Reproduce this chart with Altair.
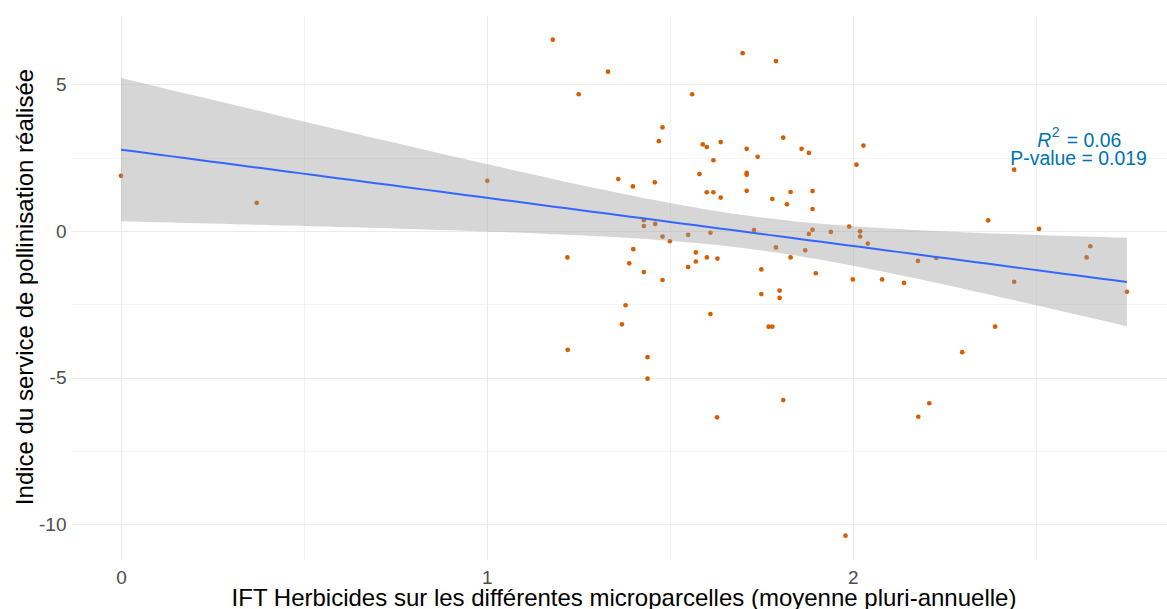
import altair as alt
import numpy as np
import pandas as pd

# ---- data ----
ift_herbicides = [
    0.000, 0.371, 1.001, 1.180, 1.699, 1.790, 1.331, 1.251, 1.561, 1.480,
    1.470, 1.590, 1.601, 1.639, 1.710, 1.810, 1.619, 1.740, 1.581, 1.710,
    1.710, 1.359, 1.399, 1.459, 1.601, 1.619, 1.639, 1.710, 1.780, 1.820,
    1.830, 1.429, 1.429, 1.460, 1.480, 1.500, 1.550, 1.611, 1.730, 1.790,
    1.830, 1.220, 1.400, 1.389, 1.429, 1.480, 1.550, 1.571, 1.571, 1.601,
    1.630, 1.750, 1.750, 1.800, 1.800, 1.860, 1.880, 2.029, 2.010, 1.890,
    1.890, 2.441, 2.370, 2.509, 1.890, 1.880, 1.940, 1.990, 2.020, 2.020,
    2.041, 1.870, 2.649, 2.639, 2.178, 2.228, 1.899, 2.000, 2.080, 2.140,
    2.441, 2.749, 1.379, 1.611, 1.369, 1.221, 1.439, 1.439, 1.629, 1.770,
    1.780, 1.810, 2.209, 2.179, 1.980, 2.389, 2.299,
]
indice_pollinisation = [
    1.88, 0.96, 1.71, 6.52, 6.06, 5.79, 5.43, 4.66, 4.66, 3.53,
    3.06, 2.95, 2.86, 3.03, 2.80, 3.18, 2.41, 2.53, 1.94, 1.98,
    1.92, 1.77, 1.52, 1.66, 1.32, 1.32, 1.14, 1.37, 1.09, 0.91,
    1.33, 0.37, 0.17, 0.24, -0.19, -0.35, -0.13, -0.06, 0.03, -0.56,
    -0.90, -0.90, -0.62, -1.10, -1.40, -1.67, -1.23, -1.04, -0.73, -0.90,
    -0.94, -1.31, -2.15, -2.03, -2.28, 2.80, 2.66, 2.91, 2.26, 1.36,
    0.75, 2.09, 0.36, 0.07, 0.04, -0.10, -0.03, 0.15, -0.01, -0.19,
    -0.43, -0.66, -0.52, -0.90, -1.02, -0.92, -1.44, -1.65, -1.65, -1.77,
    -1.73, -2.07, -2.53, -2.83, -3.18, -4.05, -4.30, -5.03, -6.35, -3.26,
    -3.26, -5.76, -5.87, -6.33, -10.38, -3.26, -4.13,
]

x_ticks = [0, 1, 2]
x_grid = [0, 0.5, 1, 1.5, 2, 2.5]
y_ticks = [-10, -5, 0, 5]
y_grid = [-10, -7.5, -5, -2.5, 0, 2.5, 5]

annot_r2 = "= 0.06"
annot_p = "P-value = 0.019"

x_title = "IFT Herbicides sur les différentes microparcelles (moyenne pluri-annuelle)"
y_title = "Indice du service de pollinisation réalisée"

# ---- linear model with 95% confidence band (like geom_smooth(method = "lm")) ----
xs = np.array(ift_herbicides)
ys = np.array(indice_pollinisation)
n = len(xs)
slope, intercept = np.polyfit(xs, ys, 1)
resid = ys - (intercept + slope * xs)
s = np.sqrt(np.sum(resid ** 2) / (n - 2))
sxx = np.sum((xs - xs.mean()) ** 2)
dof = n - 2
z = 1.959964
tq = z + (z ** 3 + z) / (4 * dof) + (5 * z ** 5 + 16 * z ** 3 + 3 * z) / (96 * dof ** 2)
grid = np.linspace(xs.min(), xs.max(), 80)
fit = intercept + slope * grid
se = s * np.sqrt(1.0 / n + (grid - xs.mean()) ** 2 / sxx)
smooth = pd.DataFrame({"x": grid, "fit": fit, "lo": fit - tq * se, "hi": fit + tq * se})

points = pd.DataFrame({"x": xs, "y": ys})

FONT = "Liberation Sans"
xdom = [-0.1366, 2.8587]
ydom = [-11.21, 7.36]

xscale = alt.Scale(domain=xdom, nice=False, zero=False)
yscale = alt.Scale(domain=ydom, nice=False, zero=False)

x_axis = alt.Axis(
    values=x_grid, title=x_title,
    labelExpr="datum.value % 1 === 0 ? '' + datum.value : ''",
    domain=False, ticks=False, tickSize=0,
    labelPadding=23, labelBaseline="alphabetic",
    labelFontSize=19, labelColor="#4d4d4d", labelFont=FONT,
    titleFontSize=24, titleColor="#000000", titleFont=FONT, titleFontWeight="normal",
    titleX=552.5, titleY=45.5, titleBaseline="alphabetic", titleAlign="center",
    gridColor="#ebebeb",
    gridWidth={"condition": {"test": "datum.value % 1 !== 0", "value": 0.6}, "value": 1.1},
)
y_axis = alt.Axis(
    values=y_grid, title=y_title,
    labelExpr="datum.value % 5 === 0 ? '' + datum.value : ''",
    domain=False, ticks=False, tickSize=0,
    labelPadding=5, labelBaseline="middle",
    labelFontSize=19, labelColor="#4d4d4d", labelFont=FONT,
    titleFontSize=24, titleColor="#000000", titleFont=FONT, titleFontWeight="normal",
    titleX=-39, titleY=271.5, titleAngle=270, titleBaseline="alphabetic", titleAlign="center",
    gridColor="#ebebeb",
    gridWidth={"condition": {"test": "datum.value % 5 !== 0", "value": 0.6}, "value": 1.1},
)

pts = alt.Chart(points).mark_circle(size=22, color="#D55E00", opacity=1).encode(
    x=alt.X("x:Q", scale=xscale, axis=x_axis),
    y=alt.Y("y:Q", scale=yscale, axis=y_axis),
)

band = alt.Chart(smooth).mark_area(color="#999999", opacity=0.4).encode(
    x=alt.X("x:Q", scale=xscale),
    y=alt.Y("lo:Q", scale=yscale),
    y2="hi:Q",
)

line = alt.Chart(smooth).mark_line(color="#3366FF", strokeWidth=2).encode(
    x=alt.X("x:Q", scale=xscale),
    y=alt.Y("fit:Q", scale=yscale),
)

ann = pd.DataFrame({"x": [2.617, 2.617], "y": [2.879, 2.232], "label": ["R", annot_p]})
ann_r = ann.iloc[[0]]
ann_p = ann.iloc[[1]]

txt_common = dict(font=FONT, fontSize=19.4, color="#0072B2", baseline="alphabetic")

t_r = alt.Chart(ann_r).mark_text(align="left", dx=-41.2, fontStyle="italic", **txt_common).encode(
    x=alt.X("x:Q", scale=xscale), y=alt.Y("y:Q", scale=yscale), text="label:N")
t_2 = alt.Chart(ann_r).mark_text(align="left", dx=-26.8, dy=-10, font=FONT, fontSize=14,
                                 color="#0072B2", baseline="alphabetic").encode(
    x=alt.X("x:Q", scale=xscale), y=alt.Y("y:Q", scale=yscale), text=alt.value("2"))
t_eq = alt.Chart(ann_r).mark_text(align="left", dx=-11.8, **txt_common).encode(
    x=alt.X("x:Q", scale=xscale), y=alt.Y("y:Q", scale=yscale), text=alt.value(annot_r2))
t_p = alt.Chart(ann_p).mark_text(align="center", **txt_common).encode(
    x=alt.X("x:Q", scale=xscale), y=alt.Y("y:Q", scale=yscale), text="label:N")

chart = alt.layer(pts, band, line, t_r, t_2, t_eq, t_p).properties(
    width=1096, height=545,
    autosize=alt.AutoSizeParams(type="none"),
    padding={"left": 71, "top": 15, "right": 0, "bottom": 49},
    background="#ffffff",
).configure_view(stroke=None)

chart.save("out.html", embed_options={"renderer": "svg", "actions": False})
